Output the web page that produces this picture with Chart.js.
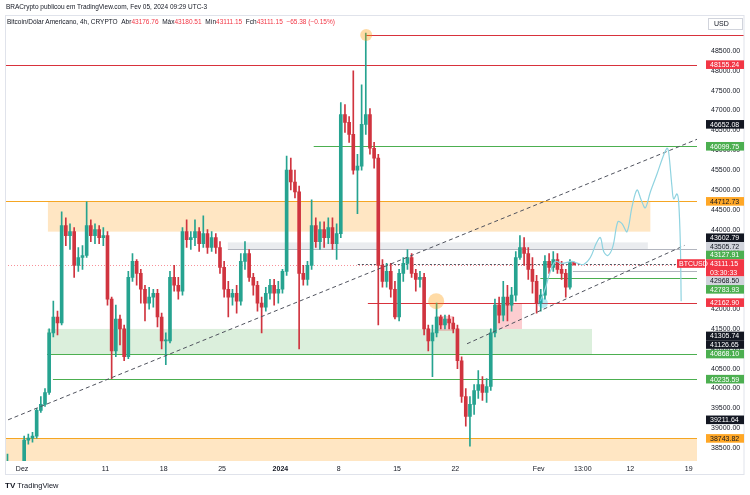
<!DOCTYPE html>
<html>
<head>
<meta charset="utf-8">
<script src="https://cdn.jsdelivr.net/npm/chart.js@4.4.1/dist/chart.umd.min.js"></script>
<style>
  html, body { margin: 0; padding: 0; background: #fff; }
  #wrap { position: relative; width: 750px; height: 495px; font-family: "Liberation Sans", Arial, sans-serif; color: #131722; }
  #chart { position: absolute; left: 0; top: 0; }
  .hd1 { position: absolute; left: 6px; top: 3px; font-size: 6.5px; white-space: nowrap; }
  .hd2 { position: absolute; left: 7px; top: 18px; font-size: 6.5px; white-space: nowrap; }
  .hd2 b { font-weight: normal; color: #f23645; }
  .ft { position: absolute; left: 5px; top: 481px; font-size: 7.5px; white-space: nowrap; }
  .ft .logo { font-weight: bold; font-size: 8px; margin-right: 2px; }
</style>
</head>
<body>
<div id="wrap">
  <canvas id="chart" width="750" height="495"></canvas>
  <div class="hd1">BRACrypto publicou em TradingView.com, Fev 05, 2024 09:29 UTC-3</div>
  <div class="hd2">Bitcoin/Dólar Americano, 4h, CRYPTO&nbsp;&nbsp;Abr<b>43176.76</b>&nbsp;&nbsp;Máx<b>43180.51</b>&nbsp;&nbsp;Mín<b>43111.15</b>&nbsp;&nbsp;Fch<b>43111.15</b>&nbsp;&nbsp;<b>−65.38 (−0.15%)</b></div>
  <div class="ft"><span class="logo">TV</span>TradingView</div>
</div>
<script>
// 12h candles, day 0 = 1 Dez 2023 00:00
const firstCandleDay = -2;
const candleStepDays = 0.5;

const opens = [
  37900,38050,37850,37750,37950,38700,38750,38800,39450,39600,
  39900,41400,41800,41650,44100,43850,43950,43100,43300,43350,
  44100,43850,44000,43800,43850,42250,40950,41750,41500,40800,
  42800,43200,42900,42500,42150,42300,42400,41800,41200,41200,
  42800,42600,42450,43950,43750,43800,43950,43650,43900,43550,
  43800,43550,43050,42500,42300,42400,42200,43200,43400,42800,
  42600,42150,42050,42400,42600,42400,42500,42950,45500,45200,
  44950,42900,42750,43100,44100,43700,44000,43800,44050,43650,
  43900,46900,46700,46400,45500,45600,46650,46900,46050,45800,
  43100,42700,42950,42500,41800,42900,43150,43300,42900,42750,
  42800,41500,41200,41400,41800,41600,41750,41650,41500,40700,
  39800,39300,39600,39950,40100,39900,40050,41400,42100,41850,
  42300,42100,42350,43300,43550,43400,43000,42700,42150,42350,
  43200,43050,43250,43000,42900,42550,43177
];
const highs = [
  38350,38150,37950,38050,38800,38850,38900,39500,39800,40000,
  41500,42200,41950,44450,44300,44150,44050,43550,43600,44700,
  44250,44150,44100,44050,43950,42300,42100,41850,41600,42950,
  43400,43250,43000,42600,42550,42500,42500,41900,41400,42950,
  43100,42800,44050,44250,43950,44250,44050,44350,44000,43950,
  43900,43700,43200,42700,42500,42600,43400,43700,43500,42900,
  42700,42300,42550,42750,42750,42700,43000,45850,45800,45500,
  45100,43100,43200,44750,44300,44200,44200,44300,44300,44150,
  47200,47150,46850,48000,45900,47650,48950,47050,46200,45900,
  43250,43150,43150,42700,43000,43300,43500,43400,43000,42950,
  42900,41600,41600,42150,41850,41850,41850,41800,41600,40800,
  40000,39800,40100,40450,40300,40250,41500,42250,42300,42700,
  42600,42550,43450,43850,43800,43550,43300,42850,42500,43350,
  43400,43450,43400,43200,43000,43250,43181
];
const lows = [
  37850,37700,37600,37700,37900,38600,38650,38750,39400,39550,
  39850,41300,41350,41600,43600,43500,42800,42950,43000,43300,
  43700,43650,43650,43600,42100,40250,40800,41100,40700,40750,
  42700,42600,42150,41700,42000,42050,41550,41000,40600,41150,
  42450,42250,42350,43550,43500,43600,43450,43550,43400,43450,
  43400,42900,42300,41800,42100,41900,42100,43000,42700,42350,
  41950,41400,41950,42250,42100,42150,42400,42850,45000,44800,
  41000,42600,42600,43000,43550,43500,43550,43650,43500,43250,
  43800,46450,46200,45400,44400,45500,46400,45900,45550,41600,
  42550,42550,42300,41750,41700,42700,43000,42800,42450,42550,
  41350,40950,40300,41300,41500,41500,41500,41400,40500,39650,
  39050,38550,39350,39750,39700,39650,39950,41300,41650,41700,
  41700,41950,42200,43250,43100,42750,42400,41900,41950,42250,
  42900,42950,42900,42750,42300,42500,43111
];
const closes = [
  38050,37850,37750,37950,38700,38750,38800,39450,39600,39900,
  41400,41800,41650,44100,43850,43950,43100,43300,43350,44100,
  43850,44000,43800,43850,42250,40950,41750,41500,40800,42800,
  43200,42900,42500,42150,42300,42400,41800,41200,41200,42800,
  42600,42450,43950,43750,43800,43950,43650,43900,43550,43800,
  43550,43050,42500,42300,42400,42200,43200,43400,42800,42600,
  42150,42050,42400,42600,42400,42500,42950,45500,45200,44950,
  42900,42750,43100,44100,43700,44000,43800,44050,43650,43900,
  46900,46700,46400,45500,45600,46650,46900,46050,45800,43100,
  42700,42950,42500,41800,42900,43150,43300,42900,42750,42800,
  41500,41200,41400,41800,41600,41750,41650,41500,40700,39800,
  39300,39600,39950,40100,39900,40050,41400,42100,41850,42300,
  42100,42350,43300,43550,43400,43000,42700,42150,42350,43200,
  43050,43250,43000,42900,42550,43177,43111
];

// hand-drawn projection (light blue path)
const projDays = [62.2,62.8,63.4,64.0,64.8,66.0,66.7,67.4,68.2,68.9,69.4,69.8,70.3,70.9,71.5,72.0,72.6,73.2,73.8,74.3,74.8,75.4,76.2,76.9,77.4,77.6,78.0,78.2,78.6,78.8,79.0,79.1];
const projPrices = [42200,42525,42950,43200,43150,43200,43150,43125,43300,43650,43800,43450,43350,43575,44200,44150,43950,44575,45000,44750,44550,44950,45400,45825,46050,45950,45075,44775,44900,44700,43650,42200];

// trend lines: [day, price] anchors
const upperTrendDays = [-1.68, 85.4];
const upperTrendPrices = [39211.64, 46652.08];
const lowerTrendDays = [53.4, 79.5];
const lowerTrendPrices = [41126.65, 43602.79];

const priceTicks = [38500,39000,39500,40000,40500,41000,41500,42000,42500,43000,43500,44000,44500,45000,45500,46000,46500,47000,47500,48000,48500];
const dayTicks = [0, 10, 17, 24, 31, 38, 45, 52, 62, 67.3, 73, 80];
const dayLabels = ['Dez', '11', '18', '25', '2024', '8', '15', '22', 'Fev', '13:00', '12', '19'];

const UP = '#26a390';
const DOWN = '#d0343f';
const RED = '#f23645';
const LINE_RED = '#d8323c';
const GREEN = '#4caf50';
const ORANGE = '#ffa726';
const BLACK = '#131722';
const GRAY = '#d1d4dc';

// drawings on the chart (day/price coordinates)
const zones = [
  { d0: 3.1, d1: 75.4, p0: 44712.73, p1: 43950, fill: 'rgba(255,167,38,0.28)' },
  { d0: 24.7, d1: 75.1, p0: 43680, p1: 43505.72, fill: 'rgba(209,212,220,0.45)' },
  { d0: 3.0, d1: 68.4, p0: 41500, p1: 40868.10, fill: 'rgba(76,175,80,0.2)' },
  { d0: -3, d1: 90, p0: 38743.82, p1: 37000, fill: 'rgba(255,167,38,0.28)' },
  { d0: 49.6, d1: 51.7, p0: 41825, p1: 41450, fill: 'rgba(242,54,69,0.25)' },
  { d0: 56.8, d1: 60.0, p0: 42150, p1: 41500, fill: 'rgba(242,54,69,0.25)' }
];
const levels = [
  { p: 48155.24, d0: -3, color: LINE_RED },
  { p: 46099.75, d0: 35.0, color: GREEN },
  { p: 44712.73, d0: -3, color: '#f5a623' },
  { p: 43505.72, d0: 24.7, color: '#b2b5be' },
  { p: 43111.15, d0: -3, color: 'rgba(242,54,69,0.55)', dash: [1, 2] },
  { p: 43127.91, d0: 40.3, color: '#50535e', dash: [2, 2] },
  { p: 42968.50, d0: 66.1, color: '#b2b5be' },
  { p: 42783.93, d0: 62.2, color: GREEN },
  { p: 42162.90, d0: 41.5, color: LINE_RED },
  { p: 40868.10, d0: 3.0, color: GREEN },
  { p: 40235.59, d0: 3.7, color: GREEN },
  { p: 38743.82, d0: -3, color: '#f5a623' }
];
const athLevel = { p: 48900, d0: 41.3, color: LINE_RED };
const marks = [
  { d: 41.3, p: 48900, r: 6, fill: 'rgba(255,152,0,0.35)' },
  { d: 49.7, p: 42200, r: 8, fill: 'rgba(255,152,0,0.35)' },
  { d: 62.5, p: 42150, r: 5, fill: 'rgba(0,188,212,0.3)' }
];
const priceTags = [
  { price: 48155.24, bg: RED, fg: '#fff' },
  { price: 46652.08, bg: BLACK, fg: '#fff' },
  { price: 46099.75, bg: GREEN, fg: '#fff' },
  { price: 44712.73, bg: ORANGE, fg: BLACK },
  { price: 43602.79, bg: BLACK, fg: '#fff' },
  { price: 43505.72, bg: GRAY, fg: BLACK },
  { price: 43127.91, bg: GREEN, fg: '#fff' },
  { price: 43111.15, bg: RED, fg: '#fff', sub: '03:30:33', symbol: 'BTCUSD' },
  { price: 42968.50, bg: GRAY, fg: BLACK },
  { price: 42783.93, bg: GREEN, fg: '#fff' },
  { price: 42162.90, bg: RED, fg: '#fff' },
  { price: 41305.74, bg: BLACK, fg: '#fff' },
  { price: 41126.65, bg: BLACK, fg: '#fff' },
  { price: 40868.10, bg: GREEN, fg: '#fff' },
  { price: 40235.59, bg: GREEN, fg: '#fff' },
  { price: 39211.64, bg: BLACK, fg: '#fff' },
  { price: 38743.82, bg: ORANGE, fg: BLACK }
];

const FONT = '"Liberation Sans", Arial, sans-serif';
const candleDay = (i) => firstCandleDay + i * candleStepDays + 0.25;
const candleColors = closes.map((c, i) => (c >= opens[i] ? UP : DOWN));
const bodyData = closes.map((c, i) => ({ x: candleDay(i), y: [opens[i], c] }));
const wickData = closes.map((c, i) => ({ x: candleDay(i), y: [lows[i], highs[i]] }));
const toPoints = (ds, ps) => ds.map((d, i) => ({ x: d, y: ps[i] }));

// stack axis tags so they do not overlap (centred on their prices)
function layoutTags(yOf, h) {
  const items = priceTags.map((t) => ({ t, ideal: yOf(t.price), size: t.sub ? 2 * h : h }));
  items.sort((a, b) => a.ideal - b.ideal);
  const makeBlock = (list) => {
    let off = 0, acc = 0;
    list.forEach((it) => { it.off = off; acc += it.ideal - h / 2 - off; off += it.size; });
    return { items: list, size: off, top: acc / list.length };
  };
  let blocks = items.map((it) => makeBlock([it]));
  let merged = true;
  while (merged) {
    merged = false;
    for (let i = 1; i < blocks.length; i++) {
      const a = blocks[i - 1], b = blocks[i];
      if (b.top < a.top + a.size) {
        blocks.splice(i - 1, 2, makeBlock(a.items.concat(b.items)));
        merged = true;
        break;
      }
    }
  }
  const out = [];
  blocks.forEach((b) => b.items.forEach((it) => out.push({ t: it.t, top: b.top + it.off })));
  return out;
}

const drawings = {
  id: 'drawings',
  beforeDatasetsDraw(chart) {
    const { ctx, chartArea: a, scales: { x, y } } = chart;
    ctx.save();
    ctx.beginPath();
    ctx.rect(a.left, a.top, a.right - a.left, a.bottom - a.top);
    ctx.clip();
    zones.forEach((z) => {
      const x0 = x.getPixelForValue(z.d0), x1 = x.getPixelForValue(z.d1);
      const y0 = y.getPixelForValue(z.p0), y1 = y.getPixelForValue(z.p1);
      ctx.fillStyle = z.fill;
      ctx.fillRect(x0, y0, x1 - x0, y1 - y0);
    });
    ctx.lineWidth = 1;
    levels.forEach((l) => {
      const py = Math.round(y.getPixelForValue(l.p)) + 0.5;
      ctx.strokeStyle = l.color;
      ctx.setLineDash(l.dash || []);
      ctx.beginPath();
      ctx.moveTo(Math.max(a.left, x.getPixelForValue(l.d0)), py);
      ctx.lineTo(a.right, py);
      ctx.stroke();
    });
    ctx.restore();

    // ATH line runs on into the price axis
    ctx.save();
    const ay = Math.round(y.getPixelForValue(athLevel.p)) + 0.5;
    ctx.strokeStyle = athLevel.color;
    ctx.lineWidth = 1;
    ctx.beginPath();
    ctx.moveTo(x.getPixelForValue(athLevel.d0), ay);
    ctx.lineTo(744, ay);
    ctx.stroke();
    ctx.restore();
  },
  afterDatasetsDraw(chart) {
    const { ctx, scales: { x, y } } = chart;
    ctx.save();
    marks.forEach((m) => {
      ctx.fillStyle = m.fill;
      ctx.beginPath();
      ctx.arc(x.getPixelForValue(m.d), y.getPixelForValue(m.p), m.r, 0, Math.PI * 2);
      ctx.fill();
    });
    ctx.restore();
  },
  afterDraw(chart) {
    const { ctx, scales: { y } } = chart;
    ctx.save();
    // frame
    ctx.strokeStyle = '#e0e3eb';
    ctx.lineWidth = 1;
    ctx.strokeRect(5.5, 15.5, 738.5, 459);

    // USD box
    ctx.fillStyle = '#fff';
    ctx.fillRect(708, 18, 35, 12);
    ctx.strokeStyle = '#d1d4dc';
    ctx.strokeRect(708.5, 18.5, 34, 11);
    ctx.fillStyle = BLACK;
    ctx.font = '7px ' + FONT;
    ctx.textBaseline = 'middle';
    ctx.textAlign = 'left';
    ctx.fillText('USD', 714, 24.5);

    // price tags
    const h = 8.6;
    layoutTags((p) => y.getPixelForValue(p), h).forEach(({ t, top }) => {
      const bh = t.sub ? 2 * h : h;
      ctx.fillStyle = t.bg;
      ctx.fillRect(706, top, 38, bh);
      ctx.fillStyle = t.fg;
      ctx.fillText(t.price.toFixed(2), 710, top + h / 2 + 0.5);
      if (t.sub) ctx.fillText(t.sub, 710, top + h * 1.5 + 0.5);
      if (t.symbol) {
        ctx.fillStyle = t.bg;
        ctx.fillRect(677, top, 28, h);
        ctx.fillStyle = t.fg;
        ctx.fillText(t.symbol, 679, top + h / 2 + 0.5);
      }
    });
    ctx.restore();
  }
};

new Chart(document.getElementById('chart'), {
  type: 'bar',
  data: {
    datasets: [
      { type: 'bar', data: wickData, backgroundColor: candleColors, barThickness: 1, grouped: false, order: 4 },
      { type: 'bar', data: bodyData, backgroundColor: candleColors, barThickness: 3, grouped: false, minBarLength: 1, order: 3 },
      { type: 'line', data: toPoints(upperTrendDays, upperTrendPrices), borderColor: '#50535e', borderWidth: 1, borderDash: [4, 3], pointRadius: 0, order: 2 },
      { type: 'line', data: toPoints(lowerTrendDays, lowerTrendPrices), borderColor: '#50535e', borderWidth: 1, borderDash: [4, 3], pointRadius: 0, order: 2 },
      { type: 'line', data: toPoints(projDays, projPrices), borderColor: '#8fd3e0', borderWidth: 1.2, tension: 0.35, pointRadius: 0, order: 1 }
    ]
  },
  options: {
    responsive: false,
    animation: false,
    events: [],
    layout: { padding: { left: 5, top: 15, right: 6, bottom: 19 } },
    plugins: { legend: { display: false }, tooltip: { enabled: false } },
    scales: {
      x: {
        type: 'linear',
        min: -2.05,
        max: 81.0,
        offset: false,
        grid: { display: false, drawTicks: false },
        border: { display: false },
        afterFit: (s) => { s.height = 15; },
        afterBuildTicks: (s) => { s.ticks = dayTicks.map((v) => ({ value: v })); },
        ticks: {
          autoSkip: false,
          maxRotation: 0,
          padding: 4,
          color: BLACK,
          font: (c) => ({ size: 7, family: FONT, weight: dayLabels[c.index] === '2024' ? 'bold' : 'normal' }),
          callback: (v, i) => dayLabels[i]
        }
      },
      y: {
        position: 'right',
        min: 38175,
        max: 49325,
        grid: { display: false, drawTicks: false },
        border: { display: false },
        afterFit: (s) => { s.width = 47; },
        afterBuildTicks: (s) => { s.ticks = priceTicks.map((v) => ({ value: v })); },
        ticks: {
          padding: 14,
          color: BLACK,
          font: { size: 7, family: FONT },
          callback: (v) => Number(v).toFixed(2)
        }
      }
    }
  },
  plugins: [drawings]
});
</script>
</body>
</html>
